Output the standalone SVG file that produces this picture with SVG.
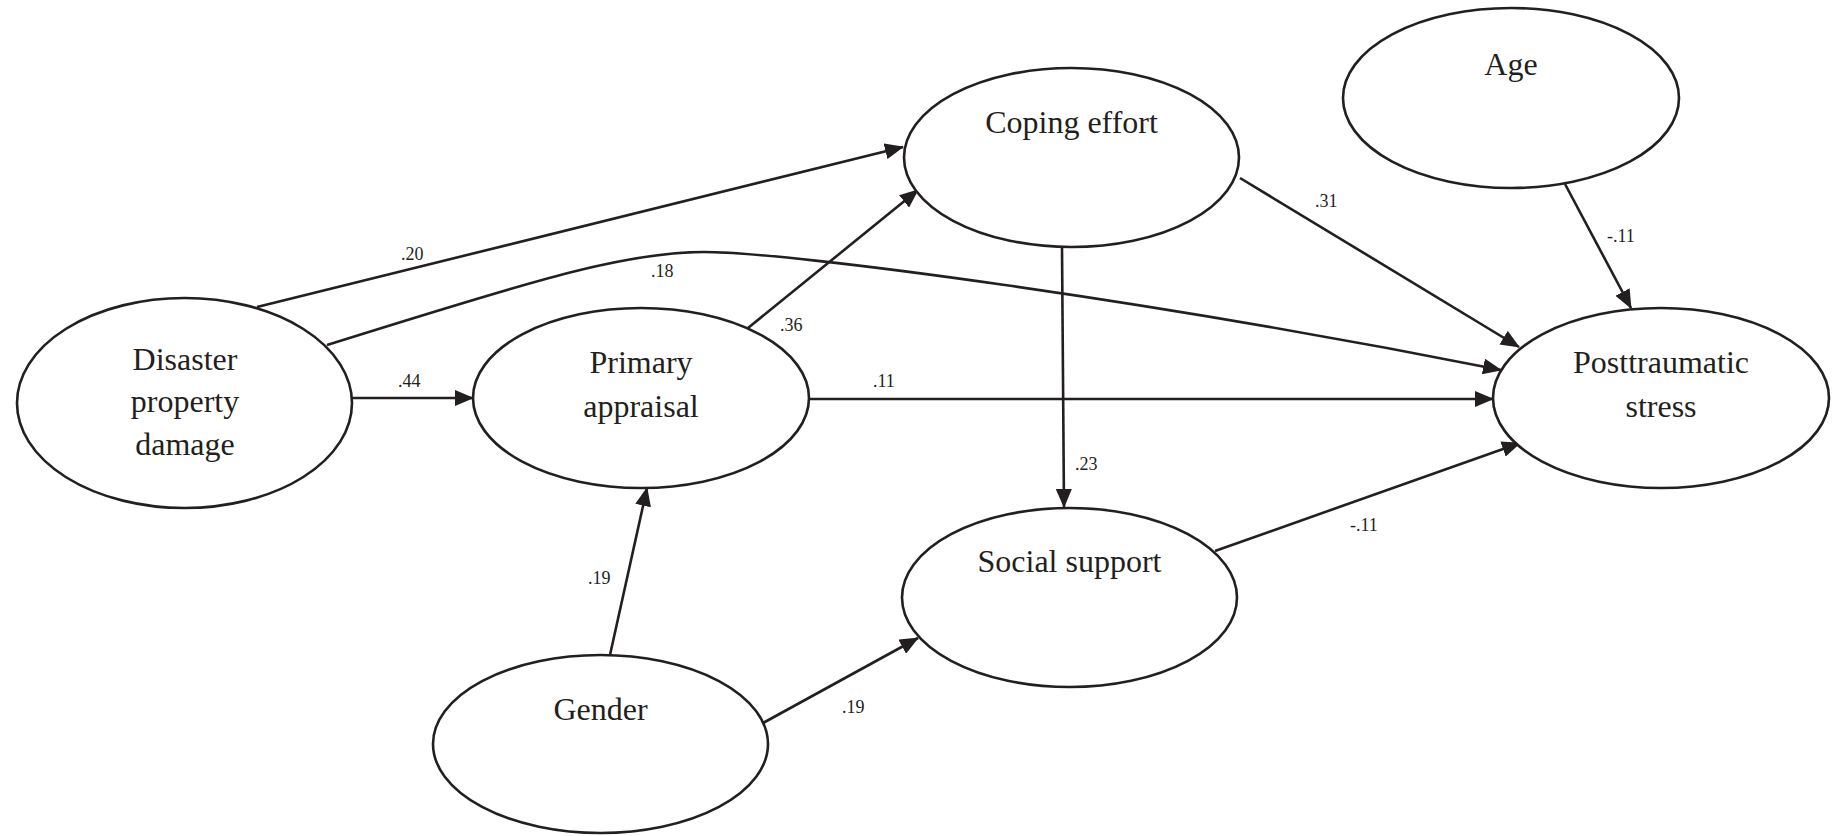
<svg xmlns="http://www.w3.org/2000/svg" width="1837" height="836" viewBox="0 0 1837 836">
<style>
.node ellipse{fill:#fff;stroke:#231f20;stroke-width:2.6}
.node text{font-family:"Liberation Serif","Times New Roman",serif;font-size:32px;fill:#231f20;text-anchor:middle}
.edge{fill:none;stroke:#231f20;stroke-width:2.6;marker-end:url(#arrow)}
.lbl{font-family:"Liberation Serif","Times New Roman",serif;font-size:18px;fill:#231f20}
</style>
<defs>
<marker id="arrow" markerUnits="userSpaceOnUse" viewBox="0 0 19 16" refX="18" refY="8" markerWidth="19" markerHeight="16" orient="auto">
<path d="M0,0 L19,8 L0,16 z" fill="#231f20"/>
</marker>
</defs>
<rect width="1837" height="836" fill="#fff"/>
<g id="connectors">
<line class="edge" x1="257" y1="307" x2="903" y2="147"/>
<path class="edge" d="M327,345 C520,285 620,252 704,252 C790,252 1150,300 1501,370"/>
<line class="edge" x1="352" y1="398" x2="473" y2="398"/>
<line class="edge" x1="748" y1="328" x2="918" y2="190"/>
<line class="edge" x1="809" y1="399" x2="1493" y2="399"/>
<line class="edge" x1="1240" y1="178" x2="1519" y2="347"/>
<line class="edge" x1="1062" y1="247" x2="1064" y2="507"/>
<line class="edge" x1="1565" y1="184" x2="1631" y2="308"/>
<line class="edge" x1="1215" y1="551" x2="1520" y2="443"/>
<line class="edge" x1="610" y1="655" x2="647" y2="488"/>
<line class="edge" x1="763" y1="723" x2="918" y2="638"/>
<text class="lbl" x="401" y="260">.20</text>
<text class="lbl" x="651" y="277">.18</text>
<text class="lbl" x="398" y="387">.44</text>
<text class="lbl" x="780" y="331">.36</text>
<text class="lbl" x="873" y="387">.11</text>
<text class="lbl" x="1315" y="207">.31</text>
<text class="lbl" x="1075" y="470">.23</text>
<text class="lbl" x="1607" y="242">-.11</text>
<text class="lbl" x="1350" y="531">-.11</text>
<text class="lbl" x="588" y="584">.19</text>
<text class="lbl" x="842" y="713">.19</text>
</g>
<g id="disaster" class="node">
<ellipse cx="184.5" cy="403" rx="167.5" ry="105"/>
<text x="185" y="370">Disaster</text>
<text x="185" y="412">property</text>
<text x="185" y="455">damage</text>
</g>
<g id="primary" class="node">
<ellipse cx="641" cy="398" rx="168" ry="90"/>
<text x="641" y="373">Primary</text>
<text x="641" y="417">appraisal</text>
</g>
<g id="coping" class="node">
<ellipse cx="1071.5" cy="157.5" rx="167.5" ry="89.5"/>
<text x="1071.5" y="133">Coping effort</text>
</g>
<g id="age" class="node">
<ellipse cx="1511" cy="98" rx="168" ry="90"/>
<text x="1511" y="75">Age</text>
</g>
<g id="pts" class="node">
<ellipse cx="1661" cy="398" rx="168" ry="90"/>
<text x="1661" y="373">Posttraumatic</text>
<text x="1661" y="417">stress</text>
</g>
<g id="social" class="node">
<ellipse cx="1069.5" cy="597.5" rx="167.5" ry="89.5"/>
<text x="1069.5" y="572">Social support</text>
</g>
<g id="gender" class="node">
<ellipse cx="600.5" cy="744" rx="167.5" ry="89"/>
<text x="600.5" y="720">Gender</text>
</g>
</svg>
